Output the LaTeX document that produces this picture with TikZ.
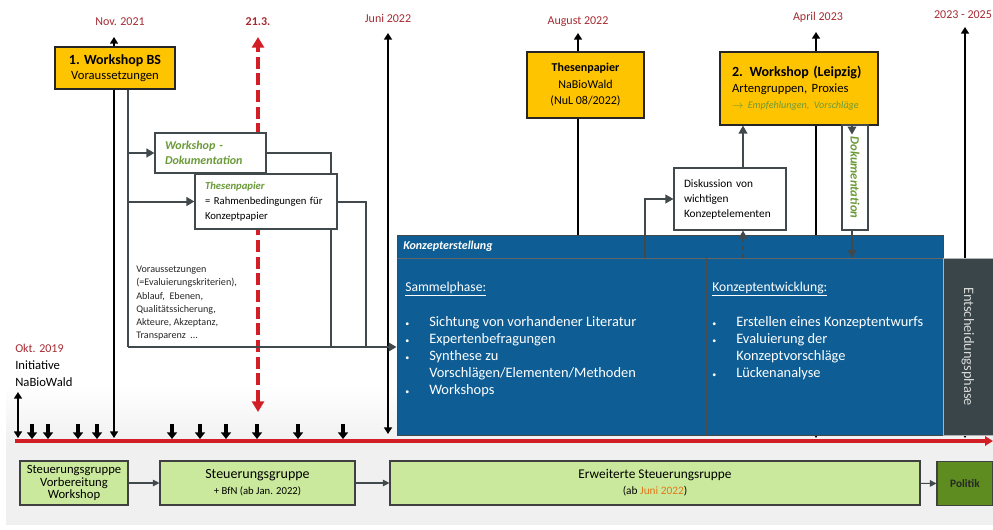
\documentclass[tikz,border=0pt]{standalone}
\usepackage{fontspec}
\setmainfont{Carlito}
\usetikzlibrary{arrows.meta,positioning}

\definecolor{jaune}{HTML}{FFC400}
\definecolor{bleu}{HTML}{0E5E95}
\definecolor{rouge}{HTML}{A52A32}
\definecolor{rougeligne}{HTML}{D21F26}
\definecolor{vert}{HTML}{6B9A38}
\definecolor{vertclair}{HTML}{CAE99C}
\definecolor{vertfonce}{HTML}{5E8C20}
\definecolor{gris}{HTML}{41494D}
\definecolor{ardoise}{HTML}{394548}
\definecolor{orangejuni}{HTML}{E0781C}

\newcommand{\fsz}[2]{\fontsize{#1}{#2}\selectfont}

\tikzset{
  date/.style={text=rouge, font=\fsz{9}{10}, inner sep=0pt},
  jalon/.style={line width=2pt, {Triangle[length=5pt,width=6pt]}-{Triangle[length=5pt,width=6pt]}},
  jalonhaut/.style={line width=2pt, -{Triangle[length=5pt,width=6pt]}},
  coche/.style={line width=2.4pt, -{Triangle[length=5pt,width=7.5pt]}},
  fleche/.style={draw=gris, line width=1.5pt, -{Triangle[length=6pt,width=6.5pt]}},
  lien/.style={draw=gris, line width=1.5pt},
  boite/.style={draw=gris, line width=0.8pt, inner sep=0pt, align=center},
  jaunebox/.style={boite, fill=jaune, draw=black!85},
  blanc/.style={boite, fill=white, align=left, inner xsep=7.5pt},
  groupe/.style={boite, fill=vertclair, draw=black!75, minimum height=33pt}
}

\begin{document}
\begin{tikzpicture}[x=0.75pt,y=-0.75pt]
  \useasboundingbox (0,0) rectangle (993,529);

  % fond
  \shade[top color=white, bottom color=gray!12] (6,385) rectangle (993,446);
  \fill[gray!12] (6,446) rectangle (993,525);

  % points de la frise
  \coordinate (t0) at (15,441);
  \coordinate (t1) at (993,441);
  \coordinate (bOkt) at (18,438);
  \coordinate (hOkt) at (18,392);
  \coordinate (bNov) at (114,438);
  \coordinate (hNov) at (114,37);
  \coordinate (bMars) at (258,412);
  \coordinate (hMars) at (258,37);
  \coordinate (bJuni) at (388,434);
  \coordinate (hJuni) at (388,33);
  \coordinate (bAug) at (578,236);
  \coordinate (hAug) at (578,33);
  \coordinate (bApr) at (816,438);
  \coordinate (hApr) at (816,32);
  \coordinate (bFin) at (965,438);
  \coordinate (hFin) at (965,27);

  % dates
  \node[date] (nov) at (120,22) {Nov. 2021};
  \node[date, font=\bfseries\fsz{9}{10}] (mars) at (258,22) {21.3.};
  \node[date] (juni) at (388,18) {Juni 2022};
  \node[date] (aug) at (578,22) {August 2022};
  \node[date] (apr) at (818,17) {April 2023};
  \node[date] (fin) at (963,15) {2023 - 2025};
  \node[date, anchor=west] (okt) at (15,348) {Okt. 2019};
  \node[anchor=north west, font=\fsz{9.5}{13}, inner sep=0pt, align=left] (init) at (15,360) {Initiative\\NaBioWald};

  % frise
  \draw[rougeligne, line width=2.5pt, -{Triangle[length=6pt,width=7pt]}] (t0) -- (t1);
  \foreach \x in {32,48,78,97,172,200,226,257,298,343}
    \draw[coche] (\x,424) -- (\x,439);

  % jalons
  \draw[jalon, line width=1.4pt] (bOkt) -- (hOkt);
  \draw[jalon] (bNov) -- (hNov);
  \draw[jalon] (bJuni) -- (hJuni);
  \draw[jalon] (bApr) -- (hApr);
  \draw[jalon] (bFin) -- (hFin);
  \draw[jalonhaut] (bAug) -- (hAug);
  \draw[rougeligne, line width=3pt, dash pattern=on 9pt off 3.5pt,
        {Triangle[length=8pt,width=9pt]}-{Triangle[length=8pt,width=9pt]}] (bMars) -- (hMars);

  % bloc Konzepterstellung
  \node[fill=bleu, draw=gris, line width=0.6pt, minimum width=409.5pt, minimum height=150pt, inner sep=0pt] (konzept) at (670,335) {};
  \coordinate (kh) at (397,258);
  \coordinate (kd) at (706,258);
  \draw[black!60, line width=0.7pt] (kh) -- (kh -| konzept.east);
  \draw[black!70, line width=0.7pt] (kd) -- (kd |- konzept.south);
  \node[anchor=west, text=white, font=\bfseries\itshape\fsz{9}{10}, inner sep=0pt] (ktitre) at (403,246) {Konzepterstellung};
  \node[anchor=north west, text=white, font=\fsz{10.8}{12.75}, inner sep=0pt] (sammel) at (405,279) {%
    \begin{tabular}{@{}p{18pt}@{}l@{}}
      \multicolumn{2}{@{}l@{}}{\fsz{10.2}{12.75}\underline{Sammelphase:}}\\[14pt]
      {\fsz{6}{6}\textbullet} & Sichtung von vorhandener Literatur\\
      {\fsz{6}{6}\textbullet} & Expertenbefragungen\\
      {\fsz{6}{6}\textbullet} & Synthese zu\\
       & Vorschlägen/Elementen/Methoden\\
      {\fsz{6}{6}\textbullet} & Workshops
    \end{tabular}};
  \node[anchor=north west, text=white, font=\fsz{10.8}{12.75}, inner sep=0pt] (entw) at (712,279) {%
    \begin{tabular}{@{}p{18pt}@{}l@{}}
      \multicolumn{2}{@{}l@{}}{\fsz{10.2}{12.75}\underline{Konzeptentwicklung:}}\\[14pt]
      {\fsz{6}{6}\textbullet} & Erstellen eines Konzeptentwurfs\\
      {\fsz{6}{6}\textbullet} & Evaluierung der\\
       & Konzeptvorschläge\\
      {\fsz{6}{6}\textbullet} & Lückenanalyse
    \end{tabular}};

  \node[fill=ardoise, draw=gray!60, line width=0.6pt, minimum width=37.5pt, minimum height=132.75pt, inner sep=0pt] (entsch) at (968,346.5) {};
  \node[rotate=-90, text=gray!30, font=\fsz{10.8}{12}] (entschtxt) at (entsch) {Entscheidungsphase};

  % boites jaunes
  \node[jaunebox, minimum width=90pt, minimum height=31.5pt] (ws1) at (115,68)
    {{\bfseries\fsz{10.5}{13}1. Workshop BS}\\[-1pt]\fsz{9.5}{11}Voraussetzungen};
  \node[jaunebox, minimum width=87.75pt, minimum height=49.5pt, font=\fsz{9}{12.4}] (these2) at (585.5,85)
    {\textbf{Thesenpapier}\\NaBioWald\\(NuL 08/2022)};
  \node[jaunebox, minimum width=118.5pt, minimum height=54.75pt, text width=100.5pt, align=left] (ws2) at (799,88.5)
    {{\bfseries\fsz{10.5}{13}2. Workshop (Leipzig)}\\
     {\fsz{9.5}{13}Artengruppen, Proxies}\\
     {\color{vert}\itshape\fsz{7.6}{12}$\rightarrow$ Empfehlungen, Vorschläge}};

  % liens du 1. Workshop
  \coordinate (tronc) at (128,347);
  \coordinate (dokuR) at (331,347);
  \coordinate (theseR) at (366,347);
  \node[blanc, minimum width=83.25pt, minimum height=30pt, text width=68.25pt,
        font=\bfseries\itshape\fsz{9}{11}, text=vert] (doku) at (210.5,153) {Workshop -\\Dokumentation};
  \draw[lien] (doku.east) -| (dokuR);
  \node[blanc, minimum width=106.5pt, minimum height=41.25pt, text width=91.5pt,
        font=\fsz{8}{11}] (these) at (266,201.5)
        {{\color{vert}\bfseries\itshape Thesenpapier}\\= Rahmenbedingungen für\\Konzeptpapier};
  \draw[lien] (these.east) -| (theseR);
  \draw[lien] (ws1.south -| tronc) -- (tronc);
  \draw[fleche] (tronc) -- (tronc -| konzept.west);
  \draw[fleche] (tronc |- doku.west) -- (doku.west);
  \draw[fleche] (tronc |- these.west) -- (these.west);
  \node[anchor=north west, font=\fsz{7.6}{9.9}, inner sep=0pt, align=left, text=black!85] (liste) at (136,266)
    {Voraussetzungen\\(=Evaluierungskriterien),\\Ablauf,~ Ebenen,\\Qualitätssicherung,\\Akteure, Akzeptanz,\\Transparenz~ \dots};

  % discussion et documentation
  \node[blanc, minimum width=84pt, minimum height=46.5pt, text width=69pt, font=\fsz{8.5}{11.25}] (disk) at (730,199)
    {Diskussion von\\wichtigen\\Konzeptelementen};
  \node[boite, fill=white, minimum width=19.5pt, minimum height=78.75pt] (dokv) at (855,177.5) {};
  \node[rotate=-90, text=vert, font=\bfseries\itshape\fsz{9.5}{10}] (dokvtxt) at (dokv) {Dokumentation};
  \coordinate (k1) at (645,258);
  \coordinate (k2) at (743,258);
  \coordinate (k3) at (852,258);
  \draw[fleche, line width=1.1pt] (k1) |- (disk.west);
  \draw[fleche, line width=1.1pt, dashed] (k2) -- (k2 |- disk.south);
  \draw[fleche, line width=1.1pt] (k2 |- disk.north) -- (k2 |- ws2.south);
  \draw[fleche, line width=1.1pt] (k3 |- ws2.south) -- ++(0,9);
  \draw[fleche, line width=1.1pt] (k3 |- dokv.south) -- (k3);

  % groupes
  \node[groupe, minimum width=81pt, font=\fsz{9.5}{9.5}] (sg1) at (74,483) {Steuerungsgruppe\\Vorbereitung\\Workshop};
  \node[groupe, minimum width=146.25pt] (sg2) at (257.5,483)
    {{\fsz{10.5}{13}Steuerungsgruppe}\\\fsz{8}{10}+ BfN (ab Jan. 2022)};
  \node[groupe, minimum width=397.5pt] (sg3) at (655,483)
    {{\fsz{10}{13}Erweiterte Steuerungsruppe}\\\fsz{8.5}{10}(ab \textcolor{orangejuni}{Juni 2022})};
  \node[groupe, fill=vertfonce, minimum width=42pt, font=\bfseries\fsz{8.5}{10}, text=black!85] (pol) at (965,483.5) {Politik};
  \draw[fleche, line width=0.8pt, -{Triangle[length=5pt,width=5pt]}] (sg1) -- (sg2);
  \draw[fleche, line width=0.8pt, -{Triangle[length=5pt,width=5pt]}] (sg2) -- (sg3);
  \draw[fleche, line width=0.8pt, -{Triangle[length=5pt,width=5pt]}] (sg3) -- (pol);
\end{tikzpicture}
\end{document}
